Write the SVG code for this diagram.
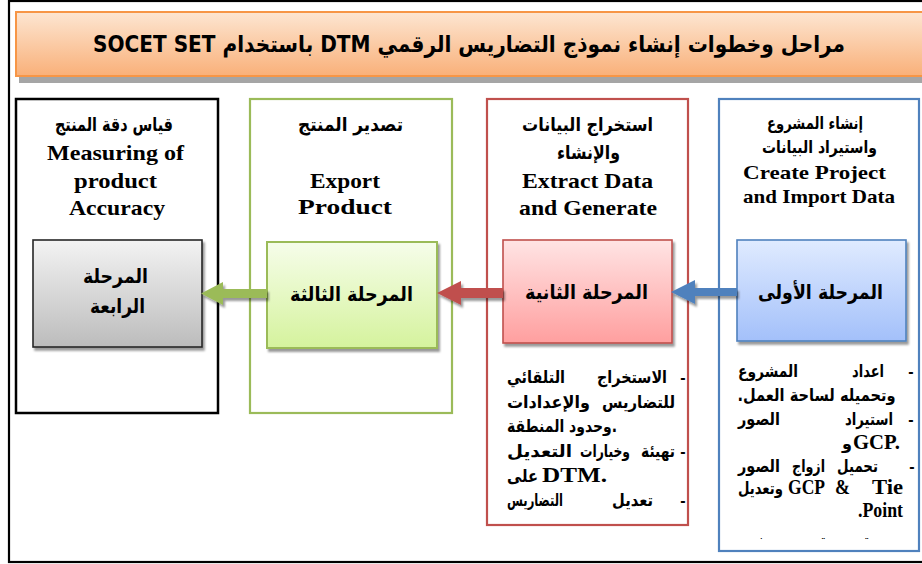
<svg xmlns="http://www.w3.org/2000/svg" width="922" height="564" viewBox="0 0 922 564">
<style>
.ar{font-family:"DejaVu Sans",sans-serif;font-weight:bold;fill:#000;direction:rtl;unicode-bidi:embed}
.en{font-family:"Liberation Serif",serif;font-weight:bold;fill:#000}
.h{font-size:19px}
.hb{font-size:17px}
.lb{font-size:20px}
.b{font-size:17px}
.enh{font-size:21px}
.enb{font-size:20px}
.dash{font-family:"Liberation Sans",sans-serif;font-weight:bold;font-size:16px}
</style>
<defs>
<linearGradient id="gTitle" x1="0" y1="0" x2="0" y2="1"><stop offset="0" stop-color="#fde6d2"/><stop offset="1" stop-color="#f9b079"/></linearGradient>
<linearGradient id="gGray" x1="0" y1="0" x2="0" y2="1"><stop offset="0" stop-color="#f3f3f3"/><stop offset="1" stop-color="#bcbcbc"/></linearGradient>
<linearGradient id="gGreen" x1="0" y1="0" x2="0" y2="1"><stop offset="0" stop-color="#f6fdea"/><stop offset="1" stop-color="#d5f39d"/></linearGradient>
<linearGradient id="gRed" x1="0" y1="0" x2="0" y2="1"><stop offset="0" stop-color="#ffe4e4"/><stop offset="1" stop-color="#ff9f9f"/></linearGradient>
<linearGradient id="gBlue" x1="0" y1="0" x2="0" y2="1"><stop offset="0" stop-color="#e0ebff"/><stop offset="1" stop-color="#a3c0fa"/></linearGradient>
<filter id="sh" x="-10%" y="-10%" width="130%" height="140%"><feDropShadow dx="2" dy="3" stdDeviation="1.2" flood-color="#000" flood-opacity="0.4"/></filter>
<clipPath id="cut"><rect x="720" y="520" width="200" height="19"/></clipPath>
</defs>
<rect x="0" y="0" width="922" height="564" fill="#fff"/>
<rect x="9" y="1" width="920" height="561" fill="none" stroke="#000" stroke-width="2.2"/>

<g id="title">
<rect x="19" y="18" width="910" height="65" fill="#a5a5a5"/>
<rect x="16" y="12" width="910" height="64" fill="url(#gTitle)" stroke="#f79646" stroke-width="2"/>
<text class="ar" x="469" y="52" font-size="23" text-anchor="middle" textLength="752" lengthAdjust="spacingAndGlyphs">مراحل وخطوات إنشاء نموذج التضاريس الرقمي DTM باستخدام SOCET SET</text>
</g>

<g id="column-4">
<rect x="16" y="99" width="202" height="314" fill="#fff" stroke="#000" stroke-width="2.5"/>
<text class="ar h" x="114" y="131" text-anchor="middle" textLength="118" lengthAdjust="spacingAndGlyphs">قياس دقة المنتج</text>
<text class="en enh" x="115.5" y="160" text-anchor="middle" textLength="137" lengthAdjust="spacingAndGlyphs">Measuring of</text>
<text class="en enh" x="115.5" y="188" text-anchor="middle" textLength="83" lengthAdjust="spacingAndGlyphs">product</text>
<text class="en enh" x="117" y="215" text-anchor="middle" textLength="96" lengthAdjust="spacingAndGlyphs">Accuracy</text>
</g>

<g id="column-3">
<rect x="250" y="99" width="202" height="314" fill="#fff" stroke="#9bbb59" stroke-width="2.2"/>
<text class="ar h" x="350.5" y="131" text-anchor="middle" textLength="105" lengthAdjust="spacingAndGlyphs">تصدير المنتج</text>
<text class="en enh" x="345" y="188" text-anchor="middle" textLength="70" lengthAdjust="spacingAndGlyphs">Export</text>
<text class="en enh" x="345" y="214" text-anchor="middle" textLength="94" lengthAdjust="spacingAndGlyphs">Product</text>
</g>

<g id="column-2">
<rect x="487" y="99" width="201" height="426" fill="#fff" stroke="#c0504d" stroke-width="2.2"/>
<text class="ar h" x="587.5" y="131" text-anchor="middle" textLength="131" lengthAdjust="spacingAndGlyphs">استخراج البيانات</text>
<text class="ar h" x="588.5" y="159" text-anchor="middle" textLength="63" lengthAdjust="spacingAndGlyphs">والإنشاء</text>
<text class="en enh" x="587.5" y="188" text-anchor="middle" textLength="131" lengthAdjust="spacingAndGlyphs">Extract Data</text>
<text class="en enh" x="588" y="215" text-anchor="middle" textLength="138" lengthAdjust="spacingAndGlyphs">and Generate</text>
<text class="dash" x="683" y="383" text-anchor="middle">-</text>
<text class="ar b" x="632" y="383" text-anchor="middle" textLength="70" lengthAdjust="spacingAndGlyphs">الاستخراج</text>
<text class="ar b" x="536" y="383" text-anchor="middle" textLength="58" lengthAdjust="spacingAndGlyphs">التلقائي</text>
<text class="ar b" x="638.5" y="408" text-anchor="middle" textLength="73" lengthAdjust="spacingAndGlyphs">للتضاريس</text>
<text class="ar b" x="548.5" y="408" text-anchor="middle" textLength="83" lengthAdjust="spacingAndGlyphs">والإعدادات</text>
<text class="ar b" x="562" y="432" text-anchor="middle" textLength="110" lengthAdjust="spacingAndGlyphs" style="direction:ltr">وحدود المنطقة.</text>
<text class="dash" x="683" y="457" text-anchor="middle">-</text>
<text class="ar b" x="658" y="457" text-anchor="middle" textLength="34" lengthAdjust="spacingAndGlyphs">تهيئة</text>
<text class="ar b" x="605" y="457" text-anchor="middle" textLength="50" lengthAdjust="spacingAndGlyphs">وخيارات</text>
<text class="ar b" x="539.5" y="457" text-anchor="middle" textLength="65" lengthAdjust="spacingAndGlyphs">التعديل</text>
<text class="ar b" x="522.5" y="482" text-anchor="middle" textLength="31" lengthAdjust="spacingAndGlyphs">على</text>
<text class="en enb" x="542" y="482" textLength="65" lengthAdjust="spacingAndGlyphs">DTM.</text>
<text class="dash" x="683" y="506" text-anchor="middle">-</text>
<text class="ar b" x="632.5" y="506" text-anchor="middle" textLength="41" lengthAdjust="spacingAndGlyphs">تعديل</text>
<text class="ar b" x="535" y="506" text-anchor="middle" textLength="56" lengthAdjust="spacingAndGlyphs">التضاريس</text>
</g>

<g id="column-1">
<rect x="719" y="99" width="200" height="452" fill="#fff" stroke="#4f81bd" stroke-width="2.2"/>
<text class="ar hb" x="815" y="129" text-anchor="middle" textLength="96" lengthAdjust="spacingAndGlyphs">إنشاء المشروع</text>
<text class="ar hb" x="819.5" y="153" text-anchor="middle" textLength="115" lengthAdjust="spacingAndGlyphs">واستيراد البيانات</text>
<text class="en" font-size="19" x="814.5" y="179" text-anchor="middle" textLength="143" lengthAdjust="spacingAndGlyphs">Create Project</text>
<text class="en" font-size="19" x="819" y="203" text-anchor="middle" textLength="152" lengthAdjust="spacingAndGlyphs">and Import Data</text>
<text class="dash" x="911" y="377" text-anchor="middle">-</text>
<text class="ar b" x="868" y="377" text-anchor="middle" textLength="32" lengthAdjust="spacingAndGlyphs">اعداد</text>
<text class="ar b" x="768" y="377" text-anchor="middle" textLength="60" lengthAdjust="spacingAndGlyphs">المشروع</text>
<text class="ar b" x="816.5" y="401" text-anchor="middle" textLength="158" lengthAdjust="spacingAndGlyphs">وتحميله لساحة العمل.</text>
<text class="dash" x="911" y="425" text-anchor="middle">-</text>
<text class="ar b" x="869" y="425" text-anchor="middle" textLength="48" lengthAdjust="spacingAndGlyphs">استيراد</text>
<text class="ar b" x="759" y="425" text-anchor="middle" textLength="42" lengthAdjust="spacingAndGlyphs">الصور</text>
<text class="ar b" x="847" y="449" text-anchor="middle" textLength="10" lengthAdjust="spacingAndGlyphs">و</text>
<text class="en enb" x="853" y="449" textLength="47" lengthAdjust="spacingAndGlyphs">GCP.</text>
<text class="dash" x="912" y="472" text-anchor="middle">-</text>
<text class="ar b" x="857.5" y="472" text-anchor="middle" textLength="41" lengthAdjust="spacingAndGlyphs">تحميل</text>
<text class="ar b" x="808.5" y="472" text-anchor="middle" textLength="33" lengthAdjust="spacingAndGlyphs">ازواج</text>
<text class="ar b" x="759" y="472" text-anchor="middle" textLength="42" lengthAdjust="spacingAndGlyphs">الصور</text>
<text class="ar b" x="760.5" y="494" text-anchor="middle" textLength="45" lengthAdjust="spacingAndGlyphs">وتعديل</text>
<text class="en enb" x="788" y="494" textLength="37" lengthAdjust="spacingAndGlyphs">GCP</text>
<text class="en enb" x="835" y="494" textLength="15" lengthAdjust="spacingAndGlyphs">&amp;</text>
<text class="en enb" x="872" y="494" textLength="31" lengthAdjust="spacingAndGlyphs">Tie</text>
<text class="en enb" x="858" y="517" textLength="45" lengthAdjust="spacingAndGlyphs">.Point</text>
<g clip-path="url(#cut)">
<text class="ar b" x="807" y="549" text-anchor="middle" textLength="140" lengthAdjust="spacingAndGlyphs">تقييم دقة نتيجة فني</text>
</g>
</g>

<g id="stage-4">
<rect x="33" y="240" width="169" height="107" fill="url(#gGray)" stroke="#262626" stroke-width="1.6" filter="url(#sh)"/>
<text class="ar lb" x="115.5" y="283" text-anchor="middle" textLength="65" lengthAdjust="spacingAndGlyphs">المرحلة</text>
<text class="ar lb" x="117.5" y="313" text-anchor="middle" textLength="55" lengthAdjust="spacingAndGlyphs">الرابعة</text>
</g>
<g id="stage-3">
<rect x="267" y="242" width="170" height="106" fill="url(#gGreen)" stroke="#9bbb59" stroke-width="2" filter="url(#sh)"/>
<text class="ar lb" x="351.5" y="301" text-anchor="middle" textLength="123" lengthAdjust="spacingAndGlyphs">المرحلة الثالثة</text>
</g>
<g id="stage-2">
<rect x="503" y="240" width="169" height="103" fill="url(#gRed)" stroke="#c0504d" stroke-width="1.6" filter="url(#sh)"/>
<text class="ar lb" x="586.5" y="299" text-anchor="middle" textLength="123" lengthAdjust="spacingAndGlyphs">المرحلة الثانية</text>
</g>
<g id="stage-1">
<rect x="737" y="240" width="169" height="101" fill="url(#gBlue)" stroke="#4f81bd" stroke-width="1.6" filter="url(#sh)"/>
<text class="ar lb" x="820.5" y="299" text-anchor="middle" textLength="125" lengthAdjust="spacingAndGlyphs">المرحلة الأولى</text>
</g>

<g id="connectors" filter="url(#sh)">
<polygon points="737,288 695,288 695,280 671,292 695,304 695,296 737,296" fill="#4f81bd"/>
<polygon points="503,288 461,288 461,281 437,293 461,305 461,298 503,298" fill="#c0504d"/>
<polygon points="267,289 223,289 223,282 201,293.5 223,305 223,298 267,298" fill="#9bbb59"/>
</g>
</svg>
